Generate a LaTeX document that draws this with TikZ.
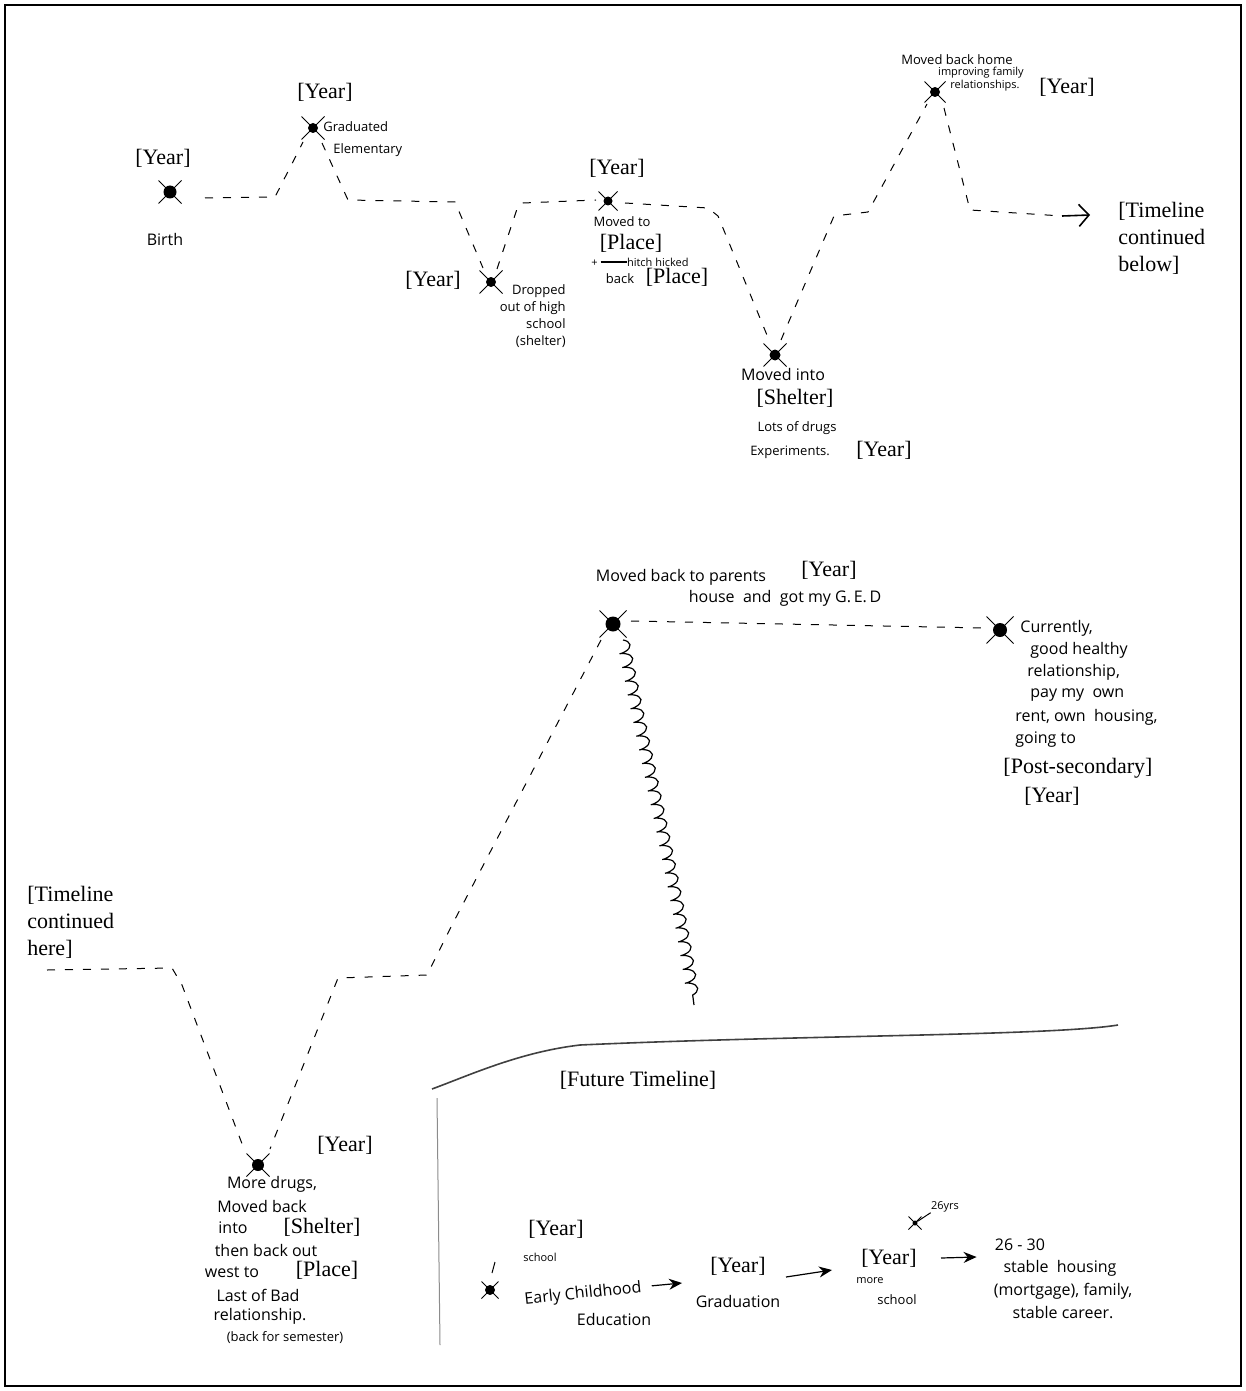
\documentclass[tikz,border=0pt]{standalone}
\usepackage{fontspec}
\setmainfont{Liberation Serif}
\newfontfamily\hand{Open Sans}
\usetikzlibrary{shapes.misc,calc,decorations.pathmorphing,arrows.meta}
\newcommand\xmk[4][11pt]{\node[xdot,minimum size=#4] (#2) at #3 {};\node[xcr,minimum size=#1] at (#2) {};}
\begin{document}
\begin{tikzpicture}[x=0.5pt,y=-0.5pt,
 pr/.style={font=\fontsize{11}{13.5}\selectfont, inner sep=0},
 hw/.style={font=\hand\fontsize{8}{11}\selectfont, inner sep=0},
 hws/.style={font=\hand\fontsize{6.5}{9}\selectfont, inner sep=0},
 hwt/.style={font=\hand\fontsize{5.5}{7}\selectfont, inner sep=0},
 xdot/.style={circle, fill=black, inner sep=0},
 xcr/.style={cross out, draw, inner sep=0, line width=0.5pt},
 dline/.style={dash pattern=on 4pt off 5pt, line width=0.5pt},
 harrow/.style={-{Stealth[length=6.5pt,width=5.5pt]}, line width=0.6pt}]
\useasboundingbox (0,0) rectangle (1246,1391);
\draw[line width=1pt] (5,5) rectangle (1241,1386);

% ---------- top timeline ----------
\xmk{birth}{(170,192)}{6.5pt}
\node[pr] (yb) at (163,158) {[Year]};
\node[hw] (birthT) at (165,240) {Birth};

\xmk{grad}{(313,128)}{5pt}
\node[pr] (yg) at (325,92) {[Year]};
\node[hws, anchor=west, align=left, font=\hand\fontsize{6.5}{11}\selectfont] (gradT) at (323,139) {Graduated\\\hspace{5pt}Elementary};

\xmk{drop}{(491,282)}{5pt}
\node[pr] (yd) at (433,280) {[Year]};
\node[hws, anchor=north east, align=right, font=\hand\fontsize{6.5}{8.5}\selectfont] (dropT) at (566,284) {Dropped\\out of high\\school\\(shelter)};

\xmk[9pt]{moved}{(608,201)}{4.5pt}
\node[pr] (ym) at (617,168) {[Year]};
\node[hws] (movedT) at (622,222) {Moved to};
\node[pr] (pl1) at (631,243) {[Place]};
\node[hwt] (hitch) at (640,262) {+ \rule[0.25em]{2.4em}{1.3pt}hitch hicked};
\node[hws] (backT) at (620,279) {back};
\node[pr] (pl2) at (677,277) {[Place]};

\xmk{shel}{(775,355)}{5.5pt}
\node[hw] (shelT) at (783,374) {Moved into};
\node[pr] (shel2) at (795,398) {[Shelter]};
\node[hws] (lots) at (797,428) {Lots of drugs};
\node[hws] (exper) at (790,452) {Experiments.};
\node[pr] (ys) at (884,450) {[Year]};

\xmk[10pt]{home}{(935,92)}{5pt}
\node[hws] (homeT1) at (957,60) {Moved back home};
\node[hwt] (homeT2) at (981,73) {improving family};
\node[hwt] (homeT3) at (985,86) {relationships.};
\node[pr] (yh) at (1067,87) {[Year]};

\node[pr, anchor=west, align=left, font=\fontsize{11}{13.5}\selectfont] (contB) at (1118,238) {[Timeline\\continued\\below]};

\draw[dline] ($(birth)+(35,6)$) -- (275,197) -- ($(grad)+(-10,14)$);
\draw[dline] ($(grad)+(9,15)$) -- (348,200) -- (455,202) -- ($(drop)+(-8,-14)$);
\draw[dline] ($(drop)+(6,-13)$) -- (518,206) -- (523,203) -- ($(moved)+(-12,-1)$);
\draw[dline] ($(moved)+(17,2)$) -- (708,208) -- (718,216) -- ($(shel)+(-6,-15)$);
\draw[dline] ($(shel)+(6,-15)$) -- (834,216) -- (868,212) -- ($(home)+(-8,12)$);
\draw[dline] ($(home)+(9,16)$) -- (970,210) -- (1062,216);
\draw[line width=0.8pt, -{Straight Barb[length=5pt,width=11pt]}] (1062,216) -- (1090,215);

% ---------- middle timeline ----------
\xmk[13pt]{ged}{(613,624)}{7.5pt}
\node[pr] (yged) at (829,570) {[Year]};
\node[hw] (gedT1) at (681,577) {Moved back to parents};
\node[hw] (gedT2) at (785,598) {house \ and \ got my G.\,E.\,D};

\xmk[13pt]{curr}{(1000,630)}{7pt}
\node[hw, anchor=west] (c1) at (1020,628) {Currently,};
\node[hw, anchor=west] (c2) at (1030,650) {good healthy};
\node[hw, anchor=west] (c3) at (1027,672) {relationship,};
\node[hw, anchor=west] (c4) at (1030,695) {pay my \ own};
\node[hw, anchor=west] (c5) at (1015,717) {rent, own \ housing,};
\node[hw, anchor=west] (c6) at (1015,740) {going to};
\node[pr] (post) at (1078,768) {[Post-secondary]};
\node[pr] (ycurr) at (1052,796) {[Year]};

\draw[dline] ($(ged)+(18,-3)$) -- ($(curr)+(-15,-2)$);
\draw[line width=0.6pt, decorate, decoration={coil, amplitude=3pt, segment length=7pt, aspect=0.4}]
  ($(ged)+(10,16)$) .. controls (650,780) and (680,900) .. (694,1005);

\node[pr, anchor=west, align=left, font=\fontsize{11}{13.5}\selectfont] (contH) at (27,922) {[Timeline\\continued\\here]};

\xmk{more}{(258,1165)}{6pt}
\node[pr] (ymore) at (345,1145) {[Year]};
\node[hw] (m1) at (272,1184) {More drugs,};
\node[hw] (m2) at (262,1206) {Moved back};
\node[hw] (m3) at (233,1228) {into};
\node[pr] (m3b) at (322,1227) {[Shelter]};
\node[hw] (m4) at (266,1250) {then back out};
\node[hw] (m5) at (232,1272) {west to};
\node[pr] (m5b) at (327,1270) {[Place]};
\node[hw] (m6) at (258,1295) {Last of Bad};
\node[hw] (m7) at (260,1316) {relationship.};
\node[hws] (m8) at (285,1338) {(back for semester)};

\draw[dline] ($(ged)+(-12,16)$) -- (452,925) -- (427,975) -- (338,978) -- ($(more)+(12,-16)$);
\draw[dline] (47,970) -- (172,968) -- (182,985) -- ($(more)+(-14,-16)$);

% ---------- future timeline ----------
\draw[line width=0.8pt, black!75] (432,1089) .. controls (470,1075) and (520,1052) .. (580,1045)
  .. controls (800,1035) and (1050,1036) .. (1118,1025);
\draw[line width=0.5pt, black!45] (437,1098) -- (440,1345);
\node[pr] (fut) at (638,1080) {[Future Timeline]};

\xmk[8pt]{fx}{(490,1290)}{5pt}
\draw[line width=0.5pt] (495,1262) -- (492,1273);
\node[pr] (fy1) at (556,1229) {[Year]};
\node[hwt] (fs1) at (540,1257) {school};
\node[hw, rotate=6] (ece) at (583,1294) {Early Childhood};
\node[hw] (edu) at (614,1319) {Education};
\node[pr] (fy2) at (738,1266) {[Year]};
\node[hw] (gradu) at (738,1301) {Graduation};
\node[pr] (fy3) at (889,1258) {[Year]};
\node[hwt] (fs2) at (870,1281) {more};
\node[hws] (fs3) at (897,1300) {school};
\node[xdot, minimum size=2.5pt] (tx) at (915,1223) {};
\node[xcr, minimum size=6pt] at (tx) {};
\node[hwt] (yrs) at (945,1207) {26yrs};
\draw[line width=0.5pt] (yrs.south west) -- (tx);
\node[hw] (r0) at (1020,1245) {26 - 30};
\node[hw] (r1) at (1060,1268) {stable \ housing};
\node[hw] (r2) at (1063,1291) {(mortgage), family,};
\node[hw] (r3) at (1063,1313) {stable career.};

\draw[harrow] ($(ece.east)+(10,-2)$) -- ($(fy2.west)+(-28,17)$);
\draw[harrow] ($(fy2.east)+(20,11)$) -- ($(fy3.west)+(-29,12)$);
\draw[harrow] ($(fy3.east)+(24,0)$) -- ($(r0.west)+(-18,12)$);
\end{tikzpicture}
\end{document}
